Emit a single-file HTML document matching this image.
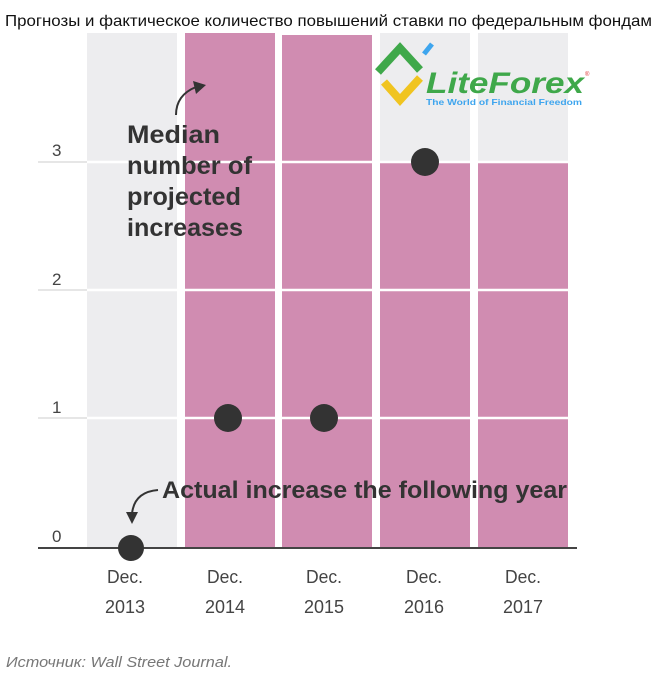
<!DOCTYPE html>
<html><head><meta charset="utf-8"><style>
body{margin:0;background:#fff;width:663px;height:676px;overflow:hidden;font-family:"Liberation Sans","DejaVu Sans",sans-serif}
</style></head><body>
<svg width="663" height="676" xmlns="http://www.w3.org/2000/svg" style="position:absolute;left:0;top:0">
<text x="5" y="26" font-size="16" fill="#111" textLength="647" lengthAdjust="spacingAndGlyphs">Прогнозы и фактическое количество повышений ставки по федеральным фондам</text>
<g fill="#ededef">
<rect x="87" y="33" width="90" height="515"/>
<rect x="380" y="33" width="90" height="515"/>
<rect x="478" y="33" width="90" height="515"/>
</g>
<g fill="#d08cb1">
<rect x="185" y="33" width="90" height="515"/>
<rect x="282" y="35" width="90" height="513"/>
<rect x="380" y="162" width="90" height="386"/>
<rect x="478" y="162" width="90" height="386"/>
</g>
<g stroke="#fff" stroke-width="2.5">
<line x1="87" y1="162" x2="568" y2="162"/>
<line x1="87" y1="290" x2="568" y2="290"/>
<line x1="87" y1="418" x2="568" y2="418"/>
</g>
<g stroke="#e6e6e6" stroke-width="2">
<line x1="38" y1="162" x2="87" y2="162"/>
<line x1="38" y1="290" x2="87" y2="290"/>
<line x1="38" y1="418" x2="87" y2="418"/>
</g>
<line x1="38" y1="548" x2="577" y2="548" stroke="#444" stroke-width="2"/>
<g font-size="17" fill="#444">
<text x="52" y="156">3</text><text x="52" y="285">2</text><text x="52" y="413">1</text><text x="52" y="542">0</text>
</g>
<g fill="#333">
<circle cx="131" cy="548" r="13"/><circle cx="228" cy="418" r="14"/><circle cx="324" cy="418" r="14"/><circle cx="425" cy="162" r="14"/>
</g>
<g font-size="25" font-weight="bold" fill="#333">
<text x="127" y="143" textLength="93" lengthAdjust="spacingAndGlyphs">Median</text>
<text x="127" y="174" textLength="125" lengthAdjust="spacingAndGlyphs">number of</text>
<text x="127" y="205" textLength="114" lengthAdjust="spacingAndGlyphs">projected</text>
<text x="127" y="236" textLength="116" lengthAdjust="spacingAndGlyphs">increases</text>
<text x="162" y="498" font-size="24" textLength="405" lengthAdjust="spacingAndGlyphs">Actual increase the following year</text>
</g>
<path d="M176 115 Q176 95 196 87" fill="none" stroke="#333" stroke-width="2"/>
<path d="M193 81 L206 85 L196 94 Z" fill="#333"/>
<path d="M158 490 Q134 492 132 514" fill="none" stroke="#333" stroke-width="2"/>
<path d="M126 512 L138 512 L132 524 Z" fill="#333"/>
<g font-size="18" fill="#444" text-anchor="middle">
<text x="125" y="583" textLength="36" lengthAdjust="spacingAndGlyphs">Dec.</text><text x="125" y="613" textLength="40" lengthAdjust="spacingAndGlyphs">2013</text>
<text x="225" y="583" textLength="36" lengthAdjust="spacingAndGlyphs">Dec.</text><text x="225" y="613" textLength="40" lengthAdjust="spacingAndGlyphs">2014</text>
<text x="324" y="583" textLength="36" lengthAdjust="spacingAndGlyphs">Dec.</text><text x="324" y="613" textLength="40" lengthAdjust="spacingAndGlyphs">2015</text>
<text x="424" y="583" textLength="36" lengthAdjust="spacingAndGlyphs">Dec.</text><text x="424" y="613" textLength="40" lengthAdjust="spacingAndGlyphs">2016</text>
<text x="523" y="583" textLength="36" lengthAdjust="spacingAndGlyphs">Dec.</text><text x="523" y="613" textLength="40" lengthAdjust="spacingAndGlyphs">2017</text>
</g>
<g>
<path d="M378 72 L400 48 L420 70" fill="none" stroke="#3fa84a" stroke-width="8"/>
<path d="M384 82 L400 100 L420 78" fill="none" stroke="#f0c420" stroke-width="8"/>
<line x1="424" y1="54" x2="432" y2="44" stroke="#3ea5ee" stroke-width="5"/>
<text x="426" y="93" font-size="30" font-weight="bold" font-style="italic" fill="#3fa84a" textLength="158" lengthAdjust="spacingAndGlyphs">LiteForex</text>
<text x="585" y="76" font-size="6" fill="#d33">®</text>
<text x="426" y="105" font-size="8.5" font-weight="bold" fill="#3ea5ee" textLength="156" lengthAdjust="spacingAndGlyphs">The World of Financial Freedom</text>
</g>
<text x="6" y="667" font-size="15" font-style="italic" fill="#777" textLength="226" lengthAdjust="spacingAndGlyphs">Источник: Wall Street Journal.</text>
</svg>
</body></html>
